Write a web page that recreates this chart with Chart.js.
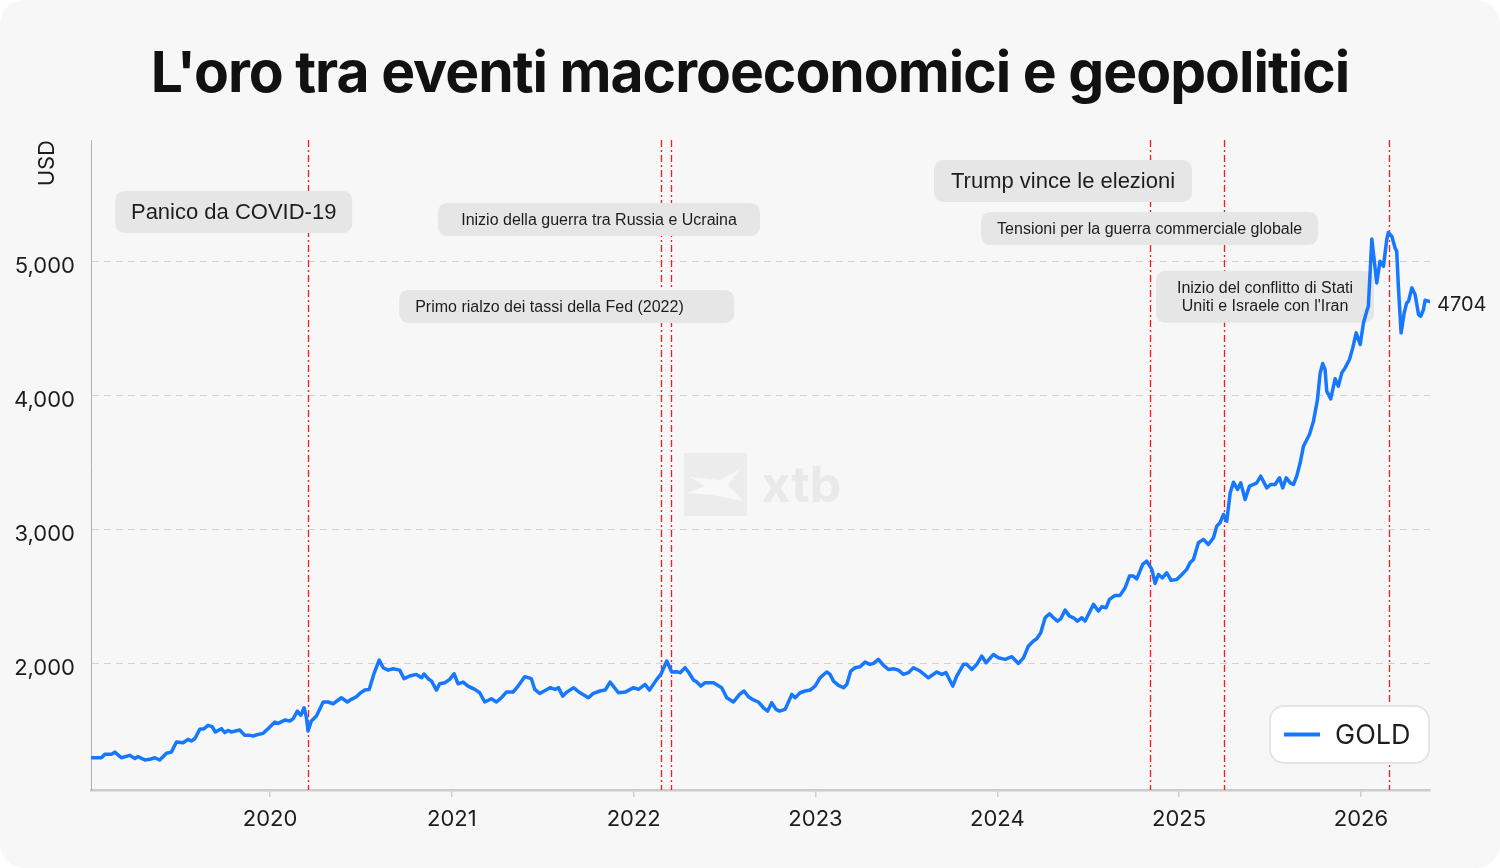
<!DOCTYPE html>
<html>
<head>
<meta charset="utf-8">
<script src="https://cdn.jsdelivr.net/npm/chart.js@4.4.1/dist/chart.umd.min.js"></script>
<style>
html,body{margin:0;padding:0;background:#ffffff;}
#card{position:relative;width:1500px;height:868px;background:#f7f7f7;border-radius:24px;overflow:hidden;}
canvas{position:absolute;left:0;top:0;}
</style>
</head>
<body>
<div id="card"><canvas id="c" width="1500" height="868"></canvas></div>
<script>
// ---------- DATA ----------
const chartTitle = "L'oro tra eventi macroeconomici e geopolitici";
const seriesLabel = "GOLD";
const lastValueLabel = "4704";

const years = [
2019.014,2019.072,2019.091,2019.127,2019.146,2019.182,2019.228,2019.256,2019.274,2019.311,
2019.338,2019.366,2019.393,2019.430,2019.457,2019.485,2019.522,2019.549,2019.567,2019.586,
2019.613,2019.637,2019.659,2019.681,2019.699,2019.732,2019.751,2019.769,2019.787,2019.833,
2019.861,2019.888,2019.907,2019.934,2019.962,2019.989,2020.026,2020.044,2020.081,2020.108,
2020.127,2020.150,2020.169,2020.187,2020.200,2020.209,2020.227,2020.255,2020.292,2020.319,
2020.347,2020.392,2020.425,2020.447,2020.475,2020.493,2020.521,2020.545,2020.572,2020.600,
2020.622,2020.649,2020.677,2020.713,2020.737,2020.768,2020.805,2020.834,2020.847,2020.869,
2020.888,2020.915,2020.933,2020.961,2020.988,2021.012,2021.034,2021.062,2021.089,2021.126,
2021.153,2021.181,2021.217,2021.245,2021.272,2021.300,2021.337,2021.364,2021.401,2021.437,
2021.456,2021.483,2021.540,2021.568,2021.586,2021.610,2021.632,2021.669,2021.705,2021.751,
2021.778,2021.815,2021.843,2021.870,2021.916,2021.953,2021.999,2022.026,2022.063,2022.087,
2022.127,2022.149,2022.182,2022.209,2022.237,2022.255,2022.283,2022.301,2022.329,2022.347,
2022.369,2022.393,2022.439,2022.484,2022.512,2022.549,2022.582,2022.607,2022.631,2022.659,
2022.686,2022.714,2022.737,2022.759,2022.783,2022.802,2022.833,2022.870,2022.888,2022.915,
2022.943,2022.970,2022.998,2023.025,2023.062,2023.080,2023.099,2023.126,2023.154,2023.172,
2023.194,2023.218,2023.245,2023.273,2023.300,2023.319,2023.346,2023.374,2023.401,2023.429,
2023.456,2023.484,2023.511,2023.539,2023.575,2023.621,2023.667,2023.695,2023.718,2023.755,
2023.777,2023.814,2023.832,2023.860,2023.887,2023.914,2023.938,2023.979,2024.006,2024.043,
2024.080,2024.116,2024.144,2024.171,2024.199,2024.217,2024.239,2024.263,2024.287,2024.309,
2024.331,2024.349,2024.373,2024.397,2024.419,2024.441,2024.465,2024.483,2024.501,2024.529,
2024.556,2024.575,2024.598,2024.617,2024.648,2024.675,2024.703,2024.727,2024.749,2024.767,
2024.800,2024.822,2024.850,2024.868,2024.886,2024.908,2024.932,2024.956,2024.987,2025.015,
2025.042,2025.060,2025.079,2025.106,2025.134,2025.161,2025.189,2025.207,2025.225,2025.244,
2025.262,2025.281,2025.299,2025.321,2025.339,2025.363,2025.387,2025.409,2025.427,2025.449,
2025.482,2025.504,2025.528,2025.552,2025.570,2025.589,2025.611,2025.629,2025.647,2025.666,
2025.684,2025.717,2025.739,2025.761,2025.776,2025.790,2025.803,2025.812,2025.834,2025.858,
2025.876,2025.895,2025.913,2025.937,2025.955,2025.974,2025.996,2026.014,2026.032,2026.041,
2026.060,2026.087,2026.105,2026.124,2026.142,2026.151,2026.170,2026.188,2026.197,2026.206,
2026.221,2026.238,2026.252,2026.262,2026.280,2026.298,2026.317,2026.329,2026.344,2026.353,
2026.380
];

const gold = [
1298,1298,1323,1323,1340,1298,1316,1293,1306,1281,
1286,1298,1281,1331,1340,1415,1410,1435,1423,1440,
1510,1515,1540,1530,1490,1515,1485,1502,1490,1505,
1465,1465,1460,1472,1480,1515,1564,1554,1579,1572,
1589,1646,1614,1671,1597,1497,1572,1609,1714,1714,
1701,1746,1714,1734,1753,1778,1803,1808,1928,2027,
1970,1952,1962,1952,1888,1908,1920,1895,1923,1888,
1870,1803,1850,1858,1883,1925,1850,1863,1833,1808,
1783,1714,1738,1714,1746,1788,1788,1833,1903,1888,
1808,1778,1821,1808,1821,1758,1788,1821,1783,1746,
1778,1796,1803,1863,1783,1788,1821,1808,1845,1803,
1883,1920,2020,1938,1940,1933,1970,1938,1878,1863,
1833,1858,1858,1821,1746,1714,1771,1796,1753,1729,
1714,1671,1646,1709,1659,1646,1659,1771,1746,1783,
1796,1803,1833,1895,1938,1920,1870,1838,1821,1845,
1945,1970,1977,2012,1995,2002,2032,1987,1957,1962,
1952,1920,1933,1970,1945,1895,1938,1920,1933,1833,
1908,1995,1995,1957,1995,2057,2007,2069,2044,2032,
2052,2002,2044,2132,2169,2186,2231,2343,2373,2343,
2318,2335,2400,2355,2343,2318,2343,2318,2368,2443,
2393,2425,2418,2480,2510,2510,2567,2654,2654,2634,
2741,2766,2704,2599,2666,2641,2679,2622,2629,2666,
2704,2753,2778,2903,2928,2890,2940,3027,3052,3114,
3064,3276,3355,3301,3350,3226,3326,3338,3350,3400,
3313,3338,3338,3388,3313,3388,3350,3338,3400,3500,
3624,3711,3811,3972,4171,4241,4196,4035,3977,4127,
4072,4171,4209,4271,4358,4470,4383,4544,4632,4669,
5171,4843,5005,4967,5166,5220,5191,5104,5079,4818,
4470,4619,4694,4706,4806,4756,4607,4594,4644,4714,
4704
];

const xTickYears = [2020, 2021, 2022, 2023, 2024, 2025, 2026];
const yTickValues = [2000, 3000, 4000, 5000];

const eventNames = [
  "Panico da COVID-19",
  "Inizio della guerra tra Russia e Ucraina",
  "Primo rialzo dei tassi della Fed (2022)",
  "Trump vince le elezioni",
  "Tensioni per la guerra commerciale globale",
  "Inizio del conflitto di Stati Uniti e Israele con l'Iran"
];
const eventYears = [2020.209, 2022.151, 2022.203, 2024.838, 2025.248, 2026.153];

// ---------- LAYOUT / STYLE (not data) ----------
const labelBoxes = [
  {lines:["Panico da COVID-19"], x:2019.148, y:5530, w:237, h:42, size:22, align:"center"},
  {lines:["Inizio della guerra tra Russia e Ucraina"], x:2020.924, y:5440, w:322, h:33, size:16, align:"center"},
  {lines:["Primo rialzo dei tassi della Fed (2022)"], x:2020.710, y:4791, w:335, h:33, size:16, align:"left"},
  {lines:["Trump vince le elezioni"], x:2023.652, y:5761, w:258, h:42, size:22, align:"center"},
  {lines:["Tensioni per la guerra commerciale globale"], x:2023.911, y:5373, w:337, h:33, size:16, align:"center"},
  {lines:["Inizio del conflitto di Stati","Uniti e Israele con l'Iran"], x:2024.873, y:4933, w:218, h:52, size:16, align:"center"}
];

const LINE_COLOR = '#1677ff';
const TEXT_COLOR = '#1d1d1f';

function roundRect(ctx, x, y, w, h, r) {
  ctx.beginPath();
  ctx.moveTo(x + r, y);
  ctx.lineTo(x + w - r, y);
  ctx.arcTo(x + w, y, x + w, y + r, r);
  ctx.lineTo(x + w, y + h - r);
  ctx.arcTo(x + w, y + h, x + w - r, y + h, r);
  ctx.lineTo(x + r, y + h);
  ctx.arcTo(x, y + h, x, y + h - r, r);
  ctx.lineTo(x, y + r);
  ctx.arcTo(x, y, x + r, y, r);
  ctx.closePath();
}

const decorPlugin = {
  id: 'decor',
  beforeDatasetsDraw(chart) {
    const {ctx, chartArea: ca, scales: {x, y}} = chart;
    // watermark
    const cx = (ca.left + ca.right) / 2, cy = (ca.top + ca.bottom) / 2;
    ctx.save();
    const sx = cx - 76.5, sy = cy - 12;
    ctx.fillStyle = '#ececec';
    ctx.fillRect(sx, sy, 63, 63);
    ctx.fillStyle = '#f8f8f8';
    ctx.beginPath();
    ctx.moveTo(sx + 6, sy + 24);
    ctx.lineTo(sx + 36, sy + 27);
    ctx.lineTo(sx + 56, sy + 16);
    ctx.lineTo(sx + 44, sy + 32);
    ctx.lineTo(sx + 59, sy + 48);
    ctx.lineTo(sx + 28, sy + 42);
    ctx.lineTo(sx + 3, sy + 40);
    ctx.lineTo(sx + 21, sy + 33);
    ctx.closePath();
    ctx.fill();
    ctx.fillStyle = '#e9e9e9';
    ctx.font = '700 50px Inter';
    ctx.textBaseline = 'alphabetic';
    ctx.textAlign = 'left';
    ctx.fillText('xtb', cx + 1, cy + 37);
    ctx.restore();

    // event lines
    ctx.save();
    ctx.strokeStyle = '#ff1a1a';
    ctx.lineWidth = 1.3;
    ctx.setLineDash([7, 3, 2, 3]);
    eventYears.forEach(ev => {
      const px = Math.round(x.getPixelForValue(ev)) + 0.5;
      ctx.beginPath();
      ctx.moveTo(px, ca.top);
      ctx.lineTo(px, ca.bottom);
      ctx.stroke();
    });
    ctx.restore();

    // label boxes
    ctx.save();
    labelBoxes.forEach(b => {
      const bx = x.getPixelForValue(b.x), by = y.getPixelForValue(b.y);
      ctx.fillStyle = '#e6e6e6';
      roundRect(ctx, bx, by, b.w, b.h, 9);
      ctx.fill();
      ctx.fillStyle = TEXT_COLOR;
      ctx.font = b.size + 'px "Liberation Sans", Arial, sans-serif';
      ctx.textBaseline = 'middle';
      const lh = 18;
      const startY = by + b.h / 2 - (b.lines.length - 1) * lh / 2 + 1;
      b.lines.forEach((t, i) => {
        if (b.align === 'left') {
          ctx.textAlign = 'left';
          ctx.fillText(t, bx + 16, startY + i * lh);
        } else {
          ctx.textAlign = 'center';
          ctx.fillText(t, bx + b.w / 2, startY + i * lh);
        }
      });
    });
    ctx.restore();
  },
  afterDatasetsDraw(chart) {
    const {ctx} = chart;
    const meta = chart.getDatasetMeta(0);
    const last = meta.data[meta.data.length - 1];
    ctx.save();
    ctx.fillStyle = TEXT_COLOR;
    ctx.font = '20px Inter';
    ctx.textAlign = 'left';
    ctx.textBaseline = 'middle';
    ctx.fillText(lastValueLabel, last.x + 7, last.y + 3);
    ctx.restore();
  },
  afterDraw(chart) {
    const {ctx, chartArea: ca} = chart;
    // legend
    ctx.save();
    const lw = 159, lh = 57;
    const lx = ca.right - 1 - lw, ly = ca.bottom - 27 - lh;
    ctx.fillStyle = '#ffffff';
    roundRect(ctx, lx, ly, lw, lh, 14);
    ctx.fill();
    ctx.strokeStyle = '#e4e4e4';
    ctx.lineWidth = 2;
    ctx.stroke();
    ctx.strokeStyle = chart.data.datasets[0].borderColor;
    ctx.lineWidth = 4;
    ctx.beginPath();
    ctx.moveTo(lx + 14, ly + lh / 2);
    ctx.lineTo(lx + 50, ly + lh / 2);
    ctx.stroke();
    ctx.fillStyle = TEXT_COLOR;
    ctx.font = '27px Inter';
    ctx.textAlign = 'left';
    ctx.textBaseline = 'middle';
    ctx.fillText(chart.data.datasets[0].label, lx + 65, ly + lh / 2 + 1);
    ctx.restore();
    // title
    ctx.save();
    ctx.fillStyle = '#111111';
    ctx.font = '700 57px Inter';
    ctx.letterSpacing = '-1px';
    ctx.textAlign = 'center';
    ctx.textBaseline = 'alphabetic';
    ctx.fillText(chartTitle, chart.width / 2, 92);
    ctx.restore();
  }
};

new Chart(document.getElementById('c'), {
  type: 'line',
  data: {
    datasets: [{
      label: seriesLabel,
      data: years.map((yr, i) => ({x: yr, y: gold[i]})),
      borderColor: LINE_COLOR,
      borderWidth: 3.5,
      pointRadius: 0,
      tension: 0,
      fill: false,
      borderJoinStyle: 'round',
      borderCapStyle: 'round'
    }]
  },
  options: {
    responsive: false,
    animation: false,
    devicePixelRatio: 1,
    layout: {padding: {top: 140, right: 70, left: 0, bottom: 0}},
    plugins: {legend: {display: false}, tooltip: {enabled: false}, title: {display: false}},
    scales: {
      x: {
        type: 'linear',
        min: 2019.015,
        max: 2026.38,
        afterBuildTicks: s => { s.ticks = xTickYears.map(v => ({value: v})); },
        afterFit: s => { s.height = 78; },
        ticks: {
          callback: v => String(v),
          font: {family: 'Inter', size: 22},
          color: TEXT_COLOR,
          padding: 9,
          maxRotation: 0,
          autoSkip: false
        },
        grid: {drawOnChartArea: false, drawTicks: true, tickLength: 7, color: '#cfcfcf', lineWidth: 1.5},
        border: {display: true, color: '#cccccc', width: 2.5}
      },
      y: {
        type: 'linear',
        min: 1057,
        max: 5910,
        afterBuildTicks: s => { s.ticks = yTickValues.map(v => ({value: v})); },
        afterFit: s => { s.width = 91; },
        ticks: {
          callback: v => v.toLocaleString('en-US'),
          font: {family: 'Inter', size: 22},
          color: TEXT_COLOR,
          padding: 16,
          labelOffset: 5
        },
        grid: {color: '#d2d2d2', lineWidth: 1, drawTicks: false},
        border: {display: true, color: '#b0b0b0', width: 1, dash: [7, 5]},
        title: {
          display: true,
          text: 'USD',
          align: 'end',
          color: TEXT_COLOR,
          font: {family: 'Inter', size: 22},
          padding: {top: 34, bottom: 0}
        }
      }
    }
  },
  plugins: [decorPlugin]
});
</script>
</body>
</html>
